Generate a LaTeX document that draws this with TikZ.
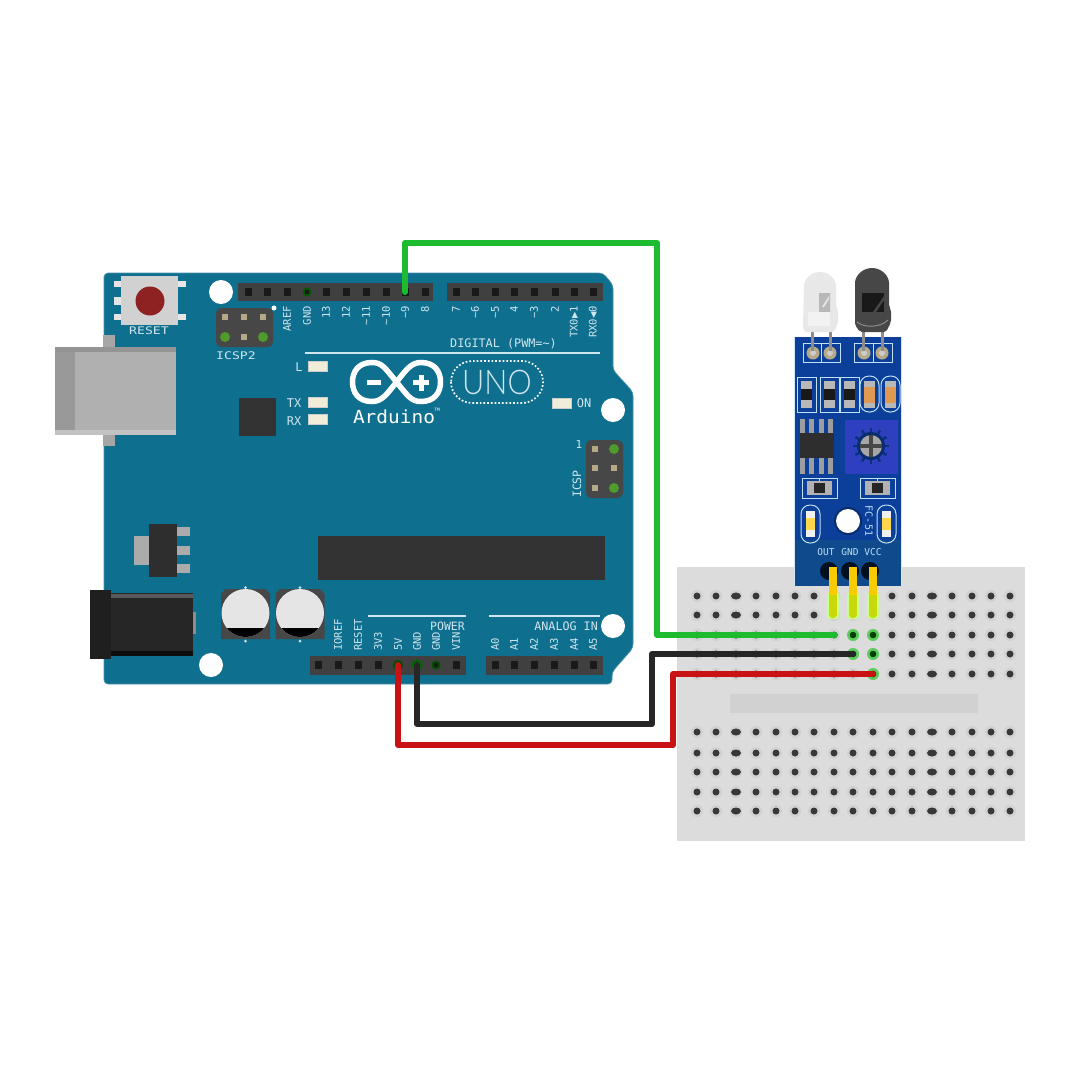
\documentclass[tikz,border=0pt]{standalone}
\usepackage{fontspec}
\setmainfont{Liberation Sans}
\newfontfamily\labf{DejaVu Sans Mono}
\newfontfamily\logof{Lato Light}
\usetikzlibrary{calc}
\definecolor{board}{HTML}{0F6F8F}
\definecolor{silk}{HTML}{CFE6EE}
\definecolor{hdr}{HTML}{404040}
\definecolor{pcbtop}{HTML}{0B3F9A}
\definecolor{pcblow}{HTML}{0E4A8C}
\definecolor{pad}{HTML}{BFE0F5}
\definecolor{bb}{HTML}{DCDCDC}
\definecolor{wgreen}{HTML}{1DBB30}
\definecolor{wblack}{HTML}{262626}
\definecolor{wred}{HTML}{C81214}
\definecolor{pintan}{HTML}{B5A987}
\definecolor{pingreen}{HTML}{4E9A2C}
\definecolor{ledcream}{HTML}{F2EDD8}
\definecolor{potblue}{HTML}{2E40C0}
\definecolor{pinorange}{HTML}{F8CC00}
\definecolor{pinlime}{HTML}{C8D80A}
\definecolor{btnred}{HTML}{8E2222}
\tikzset{
  x=1pt,y=-1pt,
  lab/.style={text=silk,font=\labf\fontsize{10.5}{10.5}\selectfont,inner sep=0pt},
  uplab/.style={lab,rotate=90,anchor=east},
  dnlab/.style={lab,rotate=90,anchor=west},
  socket/.style={fill=hdr,draw=none},
  pinhole/.style={fill=black!90,draw=none,minimum width=7pt,minimum height=8pt,inner sep=0pt,shape=rectangle},
  mount/.style={circle,fill=white,draw=none,minimum size=24pt,inner sep=0pt},
  wire/.style={line width=6pt,line cap=round,line join=round},
  bbhole/.style={circle,fill=black!78,minimum size=7pt,inner sep=0pt,draw=none},
  bbhalo/.style={circle,fill=black!18,minimum size=12pt,inner sep=0pt,draw=none},
  padbox/.style={draw=pad,line width=1pt,fill=none},
  sensorlab/.style={text=pad,font=\labf\fontsize{8.5}{8.5}\selectfont,inner sep=0pt},
  greenpin/.style={circle,fill=pingreen,minimum size=10pt,inner sep=0pt}
}
\begin{document}
\begin{tikzpicture}
\useasboundingbox[fill=white] (0,0) rectangle (1080,1080);

% Board
\path[fill=board,draw=board!75!white,line width=.7pt,rounded corners=4pt] (104,273) -- (603,273) -- (613,285) -- (613,370) -- (633,392) -- (633,648) -- (612,672) -- (612,684) -- (104,684) -- cycle;
% USB
\fill[black!35] (103,335) rectangle (115,347);
\fill[black!35] (103,435) rectangle (115,446);
\fill[black!31] (55,347) rectangle (176,435);
\fill[black!40] (55,347) rectangle (75,435);
\fill[black!42] (55,347) rectangle (176,352);
\fill[black!24] (55,430) rectangle (176,435);

% Reset
\foreach \y in {284,317} \fill[black!10] (114,\y-3) rectangle (186,\y+3);
\fill[black!10] (114,297) rectangle (122,305);
\fill[black!18] (121,276) rectangle (178,325);
\node[circle,fill=btnred,minimum size=29pt,inner sep=0pt] (resetbtn) at (150,301) {};
\node[lab,xscale=1.25] (resetlab) at (149,331) {RESET};

% Mount holes
\node[mount] (m1) at (221,292) {};
\node[mount] (m2) at (613,410) {};
\node[mount] (m3) at (613,626) {};
\node[mount] (m4) at (211,665) {};

% ICSP2
\fill[black!72,rounded corners=5pt] (216,308) rectangle (273,347);
\foreach \x in {225,244,263} \fill[pintan] (\x-3,317-3) rectangle (\x+3,317+3);
\fill[pintan] (241,334) rectangle (247,340);
\foreach \x in {225,263} \node[greenpin] at (\x,337) {};
\node[circle,fill=white,minimum size=5pt,inner sep=0pt] (dot1) at (274,308) {};
\node[lab,xscale=1.25] (icsp2) at (236,356) {ICSP2};

% Top headers
\fill[socket] (238,283) rectangle (433,301);
\fill[socket] (447,283) rectangle (603,301);
\foreach \x in {248,267,287,326,346,366,386,405,425,456,475,495,514,534,555,574,593}
  \node[pinhole] at (\x,292) {};
\node[circle,fill=green!35!black,minimum size=9pt,inner sep=0pt] (dgnd) at (307,292) {};
\node[pinhole,minimum width=4pt,minimum height=4pt] at (307,292) {};
\node[circle,fill=green!60!black,minimum size=3pt,inner sep=0pt] (d9) at (405,292) {};

% Top labels
\foreach \x/\t in {287/AREF,307/GND,326/13,346/12,366/\textasciitilde 11,386/\textasciitilde 10,405/\textasciitilde 9,425/8,456/7,475/\textasciitilde 6,495/\textasciitilde 5,514/4,534/\textasciitilde 3,555/2}
  \node[uplab] at (\x,306) {\t};
\node[uplab] (tx) at (574,306) {TX0▶1};
\node[uplab] (rx) at (593,306) {RX0◀0};
\draw[silk,line width=2pt] (305,353) -- (600,353);
\node[lab,font=\labf\fontsize{11.8}{11.8}\selectfont] (digital) at (503.5,344) {DIGITAL (PWM=\textasciitilde)};

% Logo
\draw[white,line width=5.5pt] (396.5,382) .. controls (385,368) and (382,362.5) .. (372,362.5) .. controls (358,362.5) and (352.5,372) .. (352.5,382) .. controls (352.5,392) and (358,401.5) .. (372,401.5) .. controls (382,401.5) and (387,394) .. (396.5,382) .. controls (406,370) and (411,362.5) .. (421,362.5) .. controls (435,362.5) and (440.5,372) .. (440.5,382) .. controls (440.5,392) and (435,401.5) .. (421,401.5) .. controls (411,401.5) and (408,396) .. (396.5,382) -- cycle;
\fill[white] (367,380) rectangle (381,385);
\fill[white] (413,380) rectangle (429,385);
\fill[white] (418.5,374.5) rectangle (423.5,390.5);
\node[text=white,font=\labf\fontsize{18}{18}\selectfont,inner sep=0pt,xscale=1.08] (arduino) at (394,417) {Arduino};
\node[text=white,font=\labf\fontsize{4.5}{4.5}\selectfont,inner sep=0pt] (tm) at (437,410) {TM};
\draw[white,line width=1.7pt,dotted,rounded corners=21pt] (451,361) rectangle (543,403);
\node[text=silk,font=\logof\fontsize{34}{34}\selectfont,inner sep=0pt,xscale=.9] (uno) at (497,382) {UNO};

% LEDs
\foreach \a/\b in {308/361,308/397,308/414,552/398}
  {\fill[ledcream,draw=black!20,line width=.5pt] (\a,\b) rectangle (\a+19,\b+10);}
\node[lab,font=\labf\fontsize{12}{12}\selectfont] (ll) at (299,367) {L};
\node[lab,font=\labf\fontsize{12}{12}\selectfont] (tx2) at (294,403) {TX};
\node[lab,font=\labf\fontsize{12}{12}\selectfont] (rx2) at (294,421) {RX};
\node[lab,font=\labf\fontsize{12}{12}\selectfont] (on) at (584,403) {ON};

% Chips
\fill[black!80] (239,398) rectangle (276,436);
\fill[black!80] (318,536) rectangle (605,580);

% ICSP
\fill[black!72,rounded corners=5pt] (586,440) rectangle (623,498);
\foreach \x/\y in {595/449,595/468,595/488,614/468} \fill[pintan] (\x-3,\y-3) rectangle (\x+3,\y+3);
\foreach \y in {449,488} \node[greenpin] at (614,\y) {};
\node[lab,font=\labf\fontsize{11}{11}\selectfont] (one) at (579,444) {1};
\node[lab,rotate=90,font=\labf\fontsize{11.5}{11.5}\selectfont] (icsp) at (577,484) {ICSP};

% Regulator
\fill[black!33] (134,536) rectangle (149,565);
\foreach \y in {527,546,564} \fill[black!33] (177,\y) rectangle (190,\y+9);
\fill[black!82] (149,524) rectangle (177,577);

% Jack
\fill[black!45] (193,612) rectangle (196,634);
\fill[black!85] (111,593) rectangle (193,656);
\fill[black!65] (111,594) rectangle (193,598);
\fill[black!95] (111,651) rectangle (193,656);
\fill[black!88] (90,590) rectangle (111,659);

% Capacitors
\foreach \cx in {245.5,300}{
  \fill[black!72] ($(\cx,589)+(-20,0)$) -- ($(\cx,589)+(20,0)$) -- ($(\cx,589)+(24.5,5)$) -- ($(\cx,589)+(24.5,50)$) -- ($(\cx,589)+(-24.5,50)$) -- ($(\cx,589)+(-24.5,5)$) -- cycle;
  \fill[black!10] (\cx,613) circle (24);
  \begin{scope}
    \clip (\cx-25,628) rectangle (\cx+25,640);
    \fill[black] (\cx,613) circle (24);
  \end{scope}
  \fill[silk] (\cx,587.5) circle (1.5);
  \fill[silk] (\cx,641) circle (1.5);
}

% Bottom headers
\fill[socket] (310,656) rectangle (466,675);
\fill[socket] (486,656) rectangle (603,675);
\foreach \x in {318,338,358,378,456,495,514,534,554,574,593}
  \node[pinhole] at (\x,665) {};
\node[circle,fill=green!30!black,minimum size=10pt,inner sep=0pt] (a5v) at (398,665) {};
\node[circle,fill=green!40!black,minimum size=11pt,inner sep=0pt] (agnd) at (417,665) {};
\node[circle,fill=green!30!black,minimum size=9pt,inner sep=0pt] (agnd2) at (436,665) {};
\node[pinhole,minimum width=4pt,minimum height=4pt] at (436,665) {};

\foreach \x/\t in {338/IOREF,358/RESET,378/3V3,398/5V,417/GND,436/GND,456/VIN,495/A0,514/A1,534/A2,554/A3,574/A4,593/A5}
  \node[dnlab] at (\x,651) {\t};
\draw[silk,line width=2pt] (368,616) -- (466,616);
\draw[silk,line width=2pt] (489,616) -- (600,616);
\node[lab,anchor=east,font=\labf\fontsize{11.5}{11.5}\selectfont] (power) at (465,626) {POWER};
\node[lab,anchor=east,font=\labf\fontsize{11.7}{11.7}\selectfont] (analog) at (598,626) {ANALOG IN};

% Breadboard
\fill[bb] (677,567) rectangle (1025,841);
\fill[black!18] (730,694) rectangle (978,713);
\foreach \y in {596,615,635,654,674,732,753,772,792,811}
  \foreach \x in {697,716,736,756,776,795,814,834,853,873,892,912,932,952,972,991,1010}
    \node[bbhalo] at (\x,\y) {};
\foreach \y in {596,615,635,654,674,732,753,772,792,811}
  \foreach \x in {697,716,756,776,795,814,834,853,873,892,912,952,972,991,1010}
    \node[bbhole] (h\x-\y) at (\x,\y) {};
\foreach \y in {596,615,635,654,674,732,753,772,792,811}
  \foreach \x in {736,932}
    \fill[black!78] (\x,\y) ellipse (5 and 3.5);
\foreach \x/\y in {853/635,873/635,873/654,853/654,873/674}
  {\fill[green!55!white!80!black] (\x,\y) circle (6); \fill[green!25!black] (\x,\y) circle (3.3);}

% Sensor PCB
\fill[pcbtop] (794,337) rectangle (901,586);
\fill[pcblow] (794,540) rectangle (901,586);
\draw[pad!70,line width=.6pt] (794,337) -- (794,586);
\draw[pad!70,line width=.6pt] (901,337) -- (901,586);

% Sensor pads
\draw[padbox] (803,343) rectangle (821,362);
\draw[padbox] (821,343) rectangle (840,362);
\draw[padbox] (854,343) rectangle (873,362);
\draw[padbox] (873,343) rectangle (892,362);
\foreach \x in {813,830,864,882} {\fill[pintan] (\x,353) circle (6.5); \fill[black!20] (\x,353) circle (3);}

% Sensor LEDs
\foreach \x in {812,830,863,882} \fill[black!45] (\x-1.5,325) rectangle (\x+1.5,351);
\fill[black!9,rounded corners=2pt] (804,288) arc[start angle=180,end angle=360,x radius=16,y radius=16] -- (836,306) -- (838,310) -- (838,323) -- (834,332) -- (804,332) -- (803,325) -- cycle;
\fill[black!28] (808,293) rectangle (830,312);
\fill[black!9] (808,293) -- (819,293) -- (819,312) -- (808,312) -- cycle;
\fill[black!28] (819,312) -- (830,293) -- (830,312) -- cycle;
\fill[black!9] (822,307) -- (829,296) -- (829,299) -- (824,307) -- cycle;
\fill[black!5] (808,312) rectangle (830,326);
\fill[black!72,rounded corners=2pt] (855,285) arc[start angle=180,end angle=360,x radius=17,y radius=17] -- (889,306) -- (891,310) -- (891,322) -- (886,332) -- (860,332) -- (855,325) -- cycle;
\fill[black!90] (862,293) rectangle (884,312);
\fill[black!72] (873,312) -- (884,296) -- (884,300) -- (876,312) -- cycle;
\draw[black!45,line width=1pt] (857,322) .. controls (864,328) and (880,328) .. (888,320);

% Sensor resistors
\foreach \x in {797,820,840}{
  \draw[padbox] (\x,377) rectangle (\x+19,412);
  \fill[black!28] (\x+4,381) rectangle (\x+15,408);
  \fill[black!90] (\x+4,389) rectangle (\x+15,400);
}
\foreach \x in {860,881}{
  \draw[padbox,rounded corners=9pt] (\x,376) rectangle (\x+19,412);
  \fill[black!28] (\x+4,381) rectangle (\x+15,408);
  \fill[brown!60!orange!80!white] (\x+4,387) rectangle (\x+15,403);
}

% IC
\foreach \x in {802,811,821,830} {\fill[black!38] (\x-2.5,419) rectangle (\x+2.5,433); \fill[black!38] (\x-2.5,458) rectangle (\x+2.5,474);}
\fill[black!82] (800,433) rectangle (834,458);

% Pot
\fill[potblue] (845,420) rectangle (898,474);
\foreach \a in {0,30,...,330} \draw[pcbtop!80!black,line width=2.5pt] (871,446) -- ++(\a:18);
\fill[pcbtop!70!black] (871,446) circle (14);
\fill[black!35] (871,446) circle (11);
\fill[black!72] (869,435) rectangle (873,457);
\fill[black!72] (860,444) rectangle (882,448);

% Sensor switches
\foreach \x in {802,860}{
  \draw[padbox] (\x,478) rectangle (\x+35,498);
  \fill[black!30] (\x+5,481) rectangle (\x+30,495);
  \fill[black!85] (\x+12,483) rectangle (\x+23,493);
  \draw[pad,line width=1pt] (\x+17.5,478) -- (\x+17.5,481);
}
\foreach \x in {801,877}{
  \draw[padbox,rounded corners=9pt] (\x,505) rectangle (\x+19,543);
  \fill[black!6] (\x+5,511) rectangle (\x+14,537);
  \fill[yellow!60!orange!70!white] (\x+5,518) rectangle (\x+14,530);
}
\fill[pcbtop!70!black] (848,521) circle (14);
\node[circle,fill=white,minimum size=24pt,inner sep=0pt] (shole) at (848,521) {};
\node[sensorlab,rotate=-90,font=\labf\fontsize{10}{10}\selectfont] (fc) at (869,521) {FC-51};
\node[sensorlab,font=\labf\fontsize{9.5}{9.5}\selectfont] (lout) at (826,552) {OUT};
\node[sensorlab,font=\labf\fontsize{9.5}{9.5}\selectfont] (lgnd) at (850,552) {GND};
\node[sensorlab,font=\labf\fontsize{9.5}{9.5}\selectfont] (lvcc) at (873,552) {VCC};

% Sensor pin bases
\foreach \x in {829,850,870} \fill[black!78!pcblow] (\x,571) circle (9);
\foreach \x/\n in {833/sout,853/sgnd,873/svcc}{
  \fill[green!45!yellow!45!white,rounded corners=3pt] (\x-6,592) rectangle (\x+6,619);
  \draw[line width=8.5pt,color=pinlime] (\x,590) -- (\x,614);
  \fill[pinlime] (\x,614) circle (4.25);
  \draw[line width=8.5pt,color=pinorange] (\x,567) -- (\x,595);
  \node[inner sep=0pt,minimum size=0pt] (\n) at (\x,617) {};
}

% Wires
\coordinate (gtop) at (405,243);
\coordinate (gright) at (657,243);
\coordinate (gdown) at (657,635);
\coordinate (gend) at (835,635);
\coordinate (kbot) at (417,724);
\coordinate (kright) at (652,724);
\coordinate (kup) at (652,654);
\coordinate (rbot) at (398,745);
\coordinate (rright) at (673,745);
\coordinate (rup) at (673,674);
\draw[wire,wgreen] (d9.center) -- (gtop) -- (gright) -- (gdown) -- (gend);
\draw[wire,wblack] (agnd.center) -- (kbot) -- (kright) -- (kup) -- (h853-654.center);
\draw[wire,wred] (a5v.center) -- (rbot) -- (rright) -- (rup) -- (h873-674.center);
\end{tikzpicture}
\end{document}
